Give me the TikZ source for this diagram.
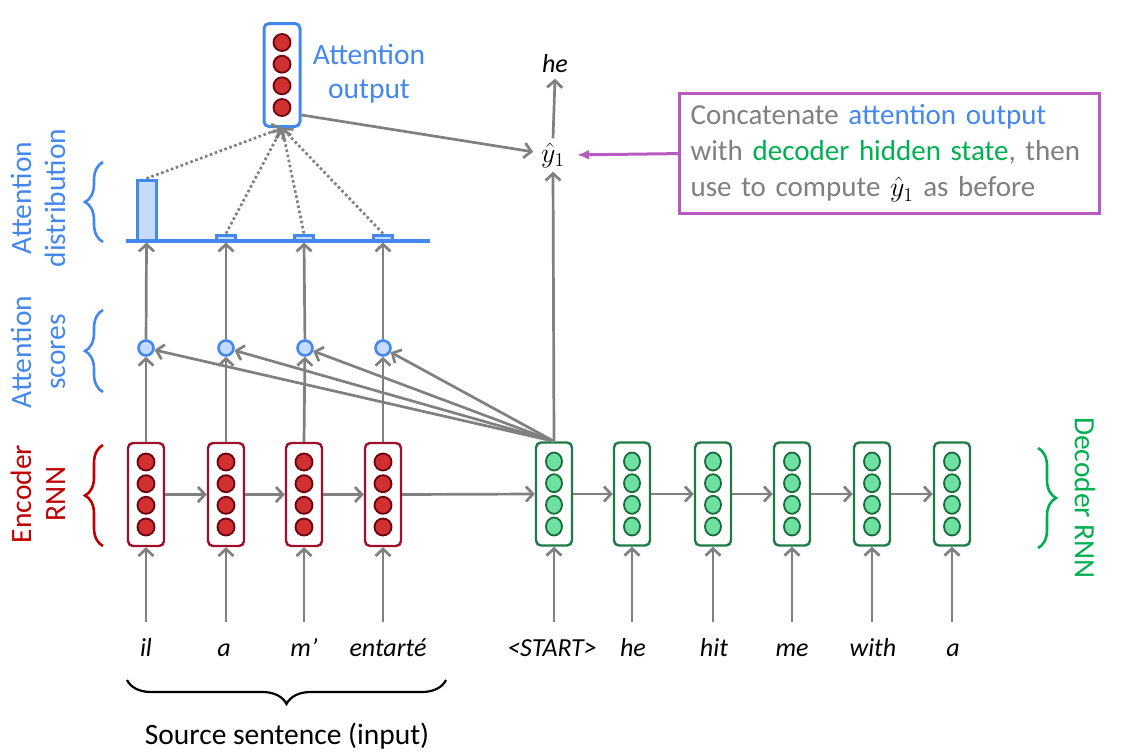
\documentclass[tikz,border=0pt]{standalone}
\usepackage{fontspec}
\usepackage{graphicx}
\setmainfont{Carlito}
\usetikzlibrary{arrows.meta,decorations.pathreplacing,calc,shapes.geometric}

\definecolor{arrgray}{HTML}{808080}
\definecolor{attblue}{HTML}{4488EE}
\definecolor{attfill}{HTML}{C5DBFF}
\definecolor{encred}{HTML}{C00000}
\definecolor{encbord}{HTML}{A0102A}
\definecolor{encfill}{HTML}{D03030}
\definecolor{encdark}{HTML}{6E0010}
\definecolor{decgreen}{HTML}{00B050}
\definecolor{decbord}{HTML}{1F7A45}
\definecolor{decfill}{HTML}{6EE0A2}
\definecolor{decdark}{HTML}{1A6B3A}
\definecolor{notemag}{HTML}{B55CC0}
\definecolor{notegray}{HTML}{7F7F7F}

% predicted output symbol, set large
\newcommand\yhatone{\scalebox{1.35}{$\hat{y}_1$}}

\tikzset{
  arr/.style={draw=arrgray, line width=2.7pt,
    -{Straight Barb[length=7pt,width=15pt]}},
  dotarr/.style={draw=arrgray, line width=2.7pt, dash pattern=on 2.6pt off 2.6pt,
    -{Straight Barb[length=7pt,width=15pt]}},
  marr/.style={draw=notemag, line width=3pt, -{Latex[length=12pt,width=10pt]}},
  vecbox/.style={rectangle, rounded corners=5pt, minimum width=36pt,
    minimum height=103pt, inner sep=0pt, fill=white},
  encbox/.style={vecbox, draw=encbord, line width=2.4pt},
  decbox/.style={vecbox, draw=decbord, line width=2.4pt},
  attbox/.style={vecbox, draw=attblue, line width=3pt},
  enccell/.style={circle, minimum size=17pt, inner sep=0pt, fill=encfill,
    draw=encdark, line width=1.8pt},
  deccell/.style={ellipse, minimum width=16pt, minimum height=18pt, inner sep=0pt,
    fill=decfill, draw=decdark, line width=1.8pt},
  score/.style={circle, minimum size=15pt, inner sep=0pt, fill=attfill,
    draw=attblue, line width=2.6pt},
  bar/.style={rectangle, inner sep=0pt, fill=attfill, draw=attblue, line width=3pt},
  word/.style={font=\fontsize{26}{30}\selectfont\itshape, text=black, inner sep=0pt,
    anchor=base, text height=19pt, text depth=6pt},
  lbl/.style={font=\fontsize{29.5}{34}\selectfont, align=center, inner sep=0pt},
  brc/.style={decorate, line width=2.6pt,
    decoration={brace, amplitude=18pt, aspect=0.5}},
}

\newcommand\cellstack[2]{%
  \foreach \dy [count=\k] in {-32.5,-10.8,10.8,32.5}
    \node[#2] (#1-c\k) at ($(#1.center)+(0,\dy)$) {};}

\begin{document}
\begin{tikzpicture}[x=1pt,y=-1pt]
\useasboundingbox (0,0) rectangle (1140,753);

% ---- encoder RNN ----
\foreach \x [count=\i] in {146,226,304,383} {
  \node[encbox] (e\i) at (\x,494.5) {};
  \cellstack{e\i}{enccell}
}
% ---- decoder RNN ----
\foreach \x [count=\i] in {554,632,713,792,872,952} {
  \node[decbox] (d\i) at (\x,494) {};
  \cellstack{d\i}{deccell}
}

% recurrent connections
\draw[arr] (e1.east) -- (e2.west);
\draw[arr] (e2.east) -- (e3.west);
\draw[arr] (e3.east) -- (e4.west);
\draw[arr] (e4.east) -- (d1.west);
\foreach \i/\j in {1/2,2/3,3/4,4/5,5/6}
  \draw[arr] (d\i.east) -- (d\j.west);

% ---- input words ----
\node[word] (w1) at (146,656) {il};
\node[word] (w2) at (224,656) {a};
\node[word] (w3) at (304,656) {m’};
\node[word] (w4) at (388,656) {entarté};
\node[word] (w5) at (552,656) {<START>};
\node[word] (w6) at (633,656) {he};
\node[word] (w7) at (714,656) {hit};
\node[word] (w8) at (792,656) {me};
\node[word] (w9) at (873,656) {with};
\node[word] (w10) at (953,656) {a};

\foreach \i in {1,...,4}
  \draw[arr, shorten <=15pt] (w\i.north -| e\i.south) -- (e\i.south);
\foreach \i [evaluate=\i as \w using int(\i+4)] in {1,...,6}
  \draw[arr, shorten <=15pt] (w\w.north -| d\i.south) -- (d\i.south);

% source sentence brace
\draw[brc, draw=black, line width=2.2pt, decoration={amplitude=24pt}]
  (446,680) -- (127,680);
\node[lbl, text=black] (src) at (287,736) {Source sentence (input)};

% ---- attention scores ----
\foreach \x [count=\i] in {146,226,305,383}
  \node[score] (s\i) at (\x,348) {};
\foreach \i in {1,...,4} {
  \draw[arr] (e\i.north) -- (s\i);
  \draw[arr] (d1.north) -- (s\i);
}

% ---- attention distribution ----
\node[bar, minimum width=19pt, minimum height=61pt] (b1) at (146.5,210.5) {};
\foreach \x [count=\i from 2] in {226,304,383}
  \node[bar, minimum width=19pt, minimum height=6pt] (b\i) at (\x,238) {};
\draw[attblue, line width=3.5pt] (126,241) -- (430,241);
\foreach \i in {1,...,4}
  \draw[arr] (s\i) -- (b\i.south);

% ---- attention output ----
\node[attbox] (ao) at (282,75) {};
\cellstack{ao}{enccell}
\foreach \i in {1,...,4}
  \draw[dotarr] (b\i.north) -- (ao.south);
\node[lbl, text=attblue] (aolbl) at (369,74) {Attention\\output};

% ---- output ----
\node[font=\fontsize{20}{24}\selectfont, inner sep=4pt] (y1) at (553,155) {\yhatone};
\node[word, anchor=center] (he) at (555,66) {he};
\draw[arr] (d1.north) -- (y1.south);
\draw[arr] (y1.north) -- (he.south);
\draw[arr, shorten >=4pt] ([yshift=-40pt]ao.east) -- (y1);

% ---- note ----
\node[draw=notemag, line width=3.2pt, text=notegray, align=left, anchor=north west,
      text width=398pt, minimum height=120pt, inner xsep=11pt, inner ysep=0pt,
      font=\fontsize{29}{36}\selectfont] (note) at (678,92)
  {Concatenate \textcolor{attblue}{attention output}\\
   with \textcolor{decgreen}{decoder hidden state}, then\\
   use to compute \textcolor{black}{\fontsize{20}{24}\selectfont\yhatone} as before};
\draw[marr, shorten >=8pt] (note.west) -- (y1.east);

% ---- side labels ----
\node[lbl, text=attblue, rotate=90] (adlbl) at (38,198) {Attention\\distribution};
\node[lbl, text=attblue, rotate=90] (aslbl) at (38,352) {Attention\\scores};
\node[lbl, text=encred, rotate=90] (enlbl) at (38,494) {Encoder\\RNN};
\node[lbl, text=decgreen, rotate=-90] (delbl) at (1085,498) {Decoder RNN};

\draw[brc, draw=attblue] (103,242) -- (103,162);
\draw[brc, draw=attblue] (103,392) -- (103,310);
\draw[brc, draw=encred] (103,546) -- (103,445);
\draw[brc, draw=decgreen] (1038,448) -- (1038,548);
\end{tikzpicture}
\end{document}
